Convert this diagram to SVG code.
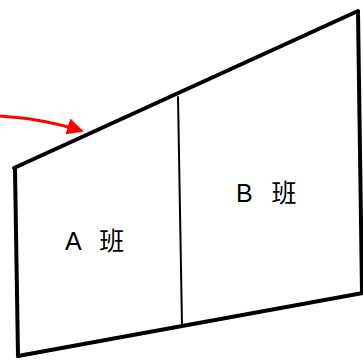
<svg xmlns="http://www.w3.org/2000/svg" width="363" height="361" viewBox="0 0 363 361">
<style>
.edge{fill:none;stroke:#000;stroke-linecap:round;stroke-linejoin:round}
.thick{stroke-width:4}
.thin{stroke-width:2}
.lbl{font-family:"Liberation Sans","Noto Sans CJK SC",sans-serif;font-size:25px;fill:#000;word-spacing:12px}
</style>
<defs>
<marker id="ah" viewBox="0 0 10 10" refX="9" refY="5" markerWidth="5.5" markerHeight="5.5" orient="auto" markerUnits="strokeWidth">
<path d="M0,0 L10,5 L0,10 z" fill="#f00"/>
</marker>
</defs>
<rect width="363" height="361" fill="#fff"/>
<g id="room">
<path class="edge thick" d="M14,168 L358,11"/>
<path class="edge thick" d="M15,169 L18,356"/>
<path class="edge thick" d="M18,356 L363,293"/>
<path class="edge thick" d="M358,12 L362,292"/>
</g>
<g id="divider">
<path class="edge thin" d="M178,97 L182,326"/>
</g>
<g id="classA">
<text class="lbl" x="65" y="250">A 班</text>
</g>
<g id="classB">
<text class="lbl" x="236" y="202">B 班</text>
</g>
<g id="connectors">
<path d="M0,116 Q45,119 82,131" fill="none" stroke="#f00" stroke-width="3" marker-end="url(#ah)"/>
</g>
</svg>
